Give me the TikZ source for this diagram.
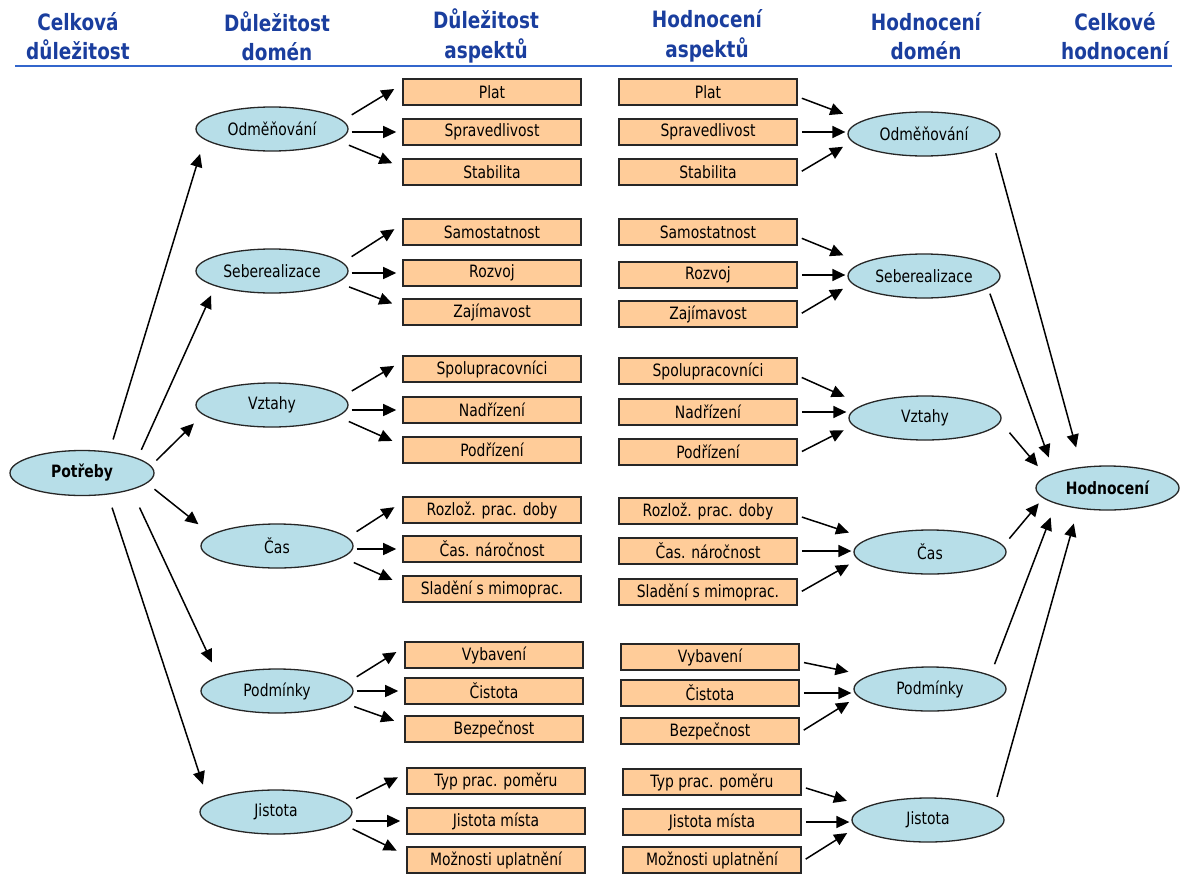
\documentclass[tikz,border=0pt]{standalone}
\usepackage{fontspec}
\setmainfont{DejaVu Sans}[FakeStretch=0.82]
\usetikzlibrary{arrows.meta,shapes.geometric}
\definecolor{ellfill}{HTML}{B7DEE8}
\definecolor{boxfill}{HTML}{FFCC99}
\definecolor{titleblue}{HTML}{1A3E9E}
\definecolor{ruleblue}{HTML}{3366CC}
\newcommand\LGarrows[4]{%
  \draw[arr, shorten <=10.5pt, shorten >=9.3pt] (#1.7) -- (#2.175);
  \draw[arr, shorten <=3pt, shorten >=6pt] (#3.west -| #1.east) -- (#3.west);
  \draw[arr, shorten <=12pt, shorten >=10.7pt] (#1.350) -- (#4.177);
}
\newcommand\RGarrows[4]{%
  \draw[arr, shorten <=4.3pt, shorten >=19.8pt] (#2.357) -- (#1.168);
  \draw[arr, shorten <=4pt, shorten >=2pt] (#3.east) -- (#3.east -| #1.west);
  \draw[arr, shorten <=4.6pt, shorten >=10.2pt] (#4.359) -- (#1.186.6);
}
\begin{document}
\begin{tikzpicture}[x=1pt,y=-1pt,
  ell/.style={ellipse, draw=black!85, line width=1.3pt, fill=ellfill,
    minimum width=152pt, minimum height=44pt, inner sep=0pt,
    font=\fontsize{17}{19}\selectfont},
  asp/.style={rectangle, draw=black!85, line width=1.6pt, fill=boxfill,
    minimum width=178pt, minimum height=26pt, inner sep=0pt,
    font=\fontsize{17}{19}\selectfont},
  hdr/.style={align=center, text=titleblue,
    font=\fontsize{22.5}{29.5}\selectfont\bfseries},
  arr/.style={-{Triangle[length=13pt,width=12pt]}, line width=1.5pt, black},
]
\useasboundingbox (0,0) rectangle (1182,875);

% header
\node[hdr] (h1) at (78,36) {Celková\\důležitost};
\node[hdr] (h2) at (277,36) {Důležitost\\domén};
\node[hdr] (h3) at (486,36) {Důležitost\\aspektů};
\node[hdr] (h4) at (707,36) {Hodnocení\\aspektů};
\node[hdr] (h5) at (926,36) {Hodnocení\\domén};
\node[hdr] (h6) at (1115,36) {Celkové\\hodnocení};
\coordinate (ruleL) at (15,66);
\coordinate (ruleR) at (1172,66);
\draw[ruleblue, line width=2pt] (ruleL) -- (ruleR);

% central nodes
\node[ell, minimum width=144pt, minimum height=45pt, font=\fontsize{17}{19}\selectfont\bfseries] (P) at (82,473) {Potřeby};
\node[ell, minimum width=143pt, minimum height=44pt, font=\fontsize{17}{19}\selectfont\bfseries] (H) at (1107.5,488) {Hodnocení};

% left domains
\node[ell] (L1) at (272,129) {Odměňování};
\node[ell] (L2) at (272,271) {Seberealizace};
\node[ell] (L3) at (272,405) {Vztahy};
\node[ell] (L4) at (277,546) {Čas};
\node[ell] (L5) at (277,691) {Podmínky};
\node[ell] (L6) at (276,812) {Jistota};

% right domains
\node[ell] (R1) at (924,134) {Odměňování};
\node[ell] (R2) at (924,276) {Seberealizace};
\node[ell] (R3) at (925,418) {Vztahy};
\node[ell] (R4) at (930,552) {Čas};
\node[ell] (R5) at (930,689) {Podmínky};
\node[ell] (R6) at (928,820) {Jistota};

% left aspects
\node[asp] (a11) at (492,92) {Plat};
\node[asp] (a12) at (492,132) {Spravedlivost};
\node[asp] (a13) at (492,172) {Stabilita};
\node[asp] (a21) at (492,232) {Samostatnost};
\node[asp] (a22) at (492,273) {Rozvoj};
\node[asp] (a23) at (492,312) {Zajímavost};
\node[asp] (a31) at (492,369) {Spolupracovníci};
\node[asp] (a32) at (492,410) {Nadřízení};
\node[asp] (a33) at (492,450) {Podřízení};
\node[asp] (a41) at (492,510) {Rozlož. prac. doby};
\node[asp] (a42) at (492,549) {Čas. náročnost};
\node[asp] (a43) at (492,589) {Sladění s mimoprac.};
\node[asp] (a51) at (494,655) {Vybavení};
\node[asp] (a52) at (494,691) {Čistota};
\node[asp] (a53) at (494,729) {Bezpečnost};
\node[asp] (a61) at (496,781) {Typ prac. poměru};
\node[asp] (a62) at (496,821) {Jistota místa};
\node[asp] (a63) at (496,860) {Možnosti uplatnění};

% right aspects
\node[asp] (b11) at (708,92) {Plat};
\node[asp] (b12) at (708,132) {Spravedlivost};
\node[asp] (b13) at (708,172) {Stabilita};
\node[asp] (b21) at (708,232) {Samostatnost};
\node[asp] (b22) at (708,275) {Rozvoj};
\node[asp] (b23) at (708,314) {Zajímavost};
\node[asp] (b31) at (708,371) {Spolupracovníci};
\node[asp] (b32) at (708,412) {Nadřízení};
\node[asp] (b33) at (708,452) {Podřízení};
\node[asp] (b41) at (708,511) {Rozlož. prac. doby};
\node[asp] (b42) at (708,551) {Čas. náročnost};
\node[asp] (b43) at (708,592) {Sladění s mimoprac.};
\node[asp] (b51) at (710,657) {Vybavení};
\node[asp] (b52) at (710,693) {Čistota};
\node[asp] (b53) at (710,731) {Bezpečnost};
\node[asp] (b61) at (712,782) {Typ prac. poměru};
\node[asp] (b62) at (712,822) {Jistota místa};
\node[asp] (b63) at (712,860) {Možnosti uplatnění};

% Potřeby -> domains
\draw[arr, shorten <=12.6pt, shorten >=14.9pt] (P.38.7) -- (L1.189.4);
\draw[arr, shorten <=9.1pt, shorten >=10.1pt] (P.15.3) -- (L2.195.2);
\draw[arr, shorten <=7.6pt, shorten >=12.5pt] (P.6.6) -- (L3.188);
\draw[arr, shorten <=9.5pt, shorten >=16.3pt] (P.351.1) -- (L4.170.6);
\draw[arr, shorten <=19.4pt, shorten >=15.5pt] (P.341.3) -- (L5.166.3);
\draw[arr, shorten <=13.7pt, shorten >=17.6pt] (P.320.8) -- (L6.171.3);

% domains -> aspects
\LGarrows{L1}{a11}{a12}{a13}
\LGarrows{L2}{a21}{a22}{a23}
\LGarrows{L3}{a31}{a32}{a33}
\LGarrows{L4}{a41}{a42}{a43}
\LGarrows{L5}{a51}{a52}{a53}
\LGarrows{L6}{a61}{a62}{a63}

% aspects -> domains
\RGarrows{R1}{b11}{b12}{b13}
\RGarrows{R2}{b21}{b22}{b23}
\RGarrows{R3}{b31}{b32}{b33}
\RGarrows{R4}{b41}{b42}{b43}
\RGarrows{R5}{b51}{b52}{b53}
\RGarrows{R6}{b61}{b62}{b63}

% domains -> Hodnocení
\draw[arr, shorten <=9.8pt, shorten >=20.1pt] (R1.352) -- (H.141.2);
\draw[arr, shorten <=5.5pt, shorten >=16.2pt] (R2.349.6) -- (H.164.3);
\draw[arr, shorten <=14pt, shorten >=12.9pt] (R3.357.6) -- (H.169.8);
\draw[arr, shorten <=9.1pt, shorten >=6.7pt] (R4.5.8) -- (H.189);
\draw[arr, shorten <=11.6pt, shorten >=14.5pt] (R5.13.9) -- (H.197.2);
\draw[arr, shorten <=12pt, shorten >=15.4pt] (R6.10.1) -- (H.215.1);
\end{tikzpicture}
\end{document}
